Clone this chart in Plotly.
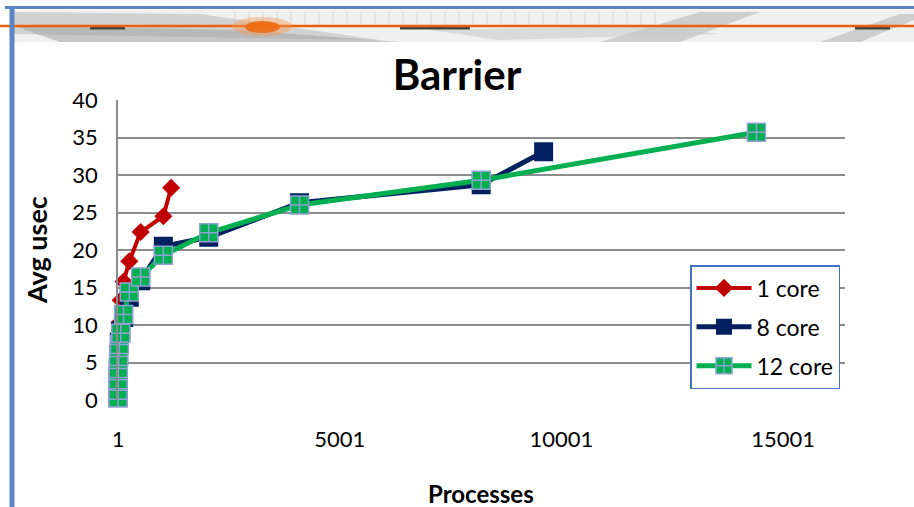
import plotly.graph_objects as go

# ---------------- data ----------------
procs_1 = [1, 2, 4, 8, 16, 32, 64, 128, 256, 512, 1024, 1200]
usec_1 = [1.0, 2.3, 3.8, 5.7, 7.7, 10.3, 13.3, 15.8, 18.5, 22.4, 24.5, 28.3]

procs_8 = [1, 2, 4, 8, 16, 32, 64, 128, 256, 512, 1024, 2048, 4096, 8192, 9600]
usec_8 = [0.3, 1.3, 2.6, 4.3, 6.0, 7.7, 9.2, 11.0, 13.7, 15.9, 20.5, 21.7, 26.3, 28.7, 33.1]

procs_12 = [1, 2, 4, 8, 16, 32, 64, 128, 256, 512, 1024, 2048, 4096, 8192, 14400]
usec_12 = [0.3, 1.3, 2.7, 4.2, 5.8, 7.4, 8.9, 11.4, 14.4, 16.4, 19.3, 22.3, 26.0, 29.3, 35.7]

series_names = ["1 core", "8 core", "12 core"]
x_ticks = [1, 5001, 10001, 15001]
x_tick_text = ["1", "5001", "10001", "15001"]
y_ticks = [0, 5, 10, 15, 20, 25, 30, 35, 40]

# ---------------- layout geometry ----------------
W, H = 914, 507
L, R, T, B = 118, 845, 100, 400
FONT = "Lato, Open Sans, sans-serif"


def px(x):
    return (x - L) / (R - L)


def py(y):
    return (B - y) / (B - T)


fig = go.Figure()

fig.add_trace(go.Scatter(
    x=procs_1, y=usec_1, name=series_names[0], mode="lines+markers",
    line=dict(color="#C00000", width=4),
    marker=dict(symbol="diamond", size=14, color="#C00000",
                line=dict(color="#C00000", width=0)),
    cliponaxis=False, legendgroup="a"))

fig.add_trace(go.Scatter(
    x=procs_8, y=usec_8, name=series_names[1], mode="lines+markers",
    line=dict(color="#002060", width=5),
    marker=dict(symbol="square", size=19, color="#002060",
                line=dict(color="#002060", width=0)),
    cliponaxis=False, legendgroup="b"))

fig.add_trace(go.Scatter(
    x=procs_12, y=usec_12, name=series_names[2], mode="lines+markers",
    line=dict(color="#00B050", width=5),
    marker=dict(symbol="square-cross", size=18, color="#00B050",
                line=dict(color="#8EA0D6", width=1.5)),
    cliponaxis=False, legendgroup="c"))

# ---------------- decorative slide banner ----------------
shapes = []
shapes.append(dict(type="rect", xref="paper", yref="paper",
                   x0=px(14), x1=px(914), y0=py(42), y1=py(10),
                   fillcolor="#F0F0F0", line=dict(width=0), layer="below"))
for gx in range(235, 660, 14):
    shapes.append(dict(type="line", xref="paper", yref="paper",
                       x0=px(gx), x1=px(gx), y0=py(25), y1=py(11),
                       line=dict(color="#D6D6D6", width=1), layer="below"))
swooshes = [
    ([(14, 12), (200, 14), (380, 40), (14, 34)], "#C4C4C4", 0.7),
    ([(14, 26), (240, 30), (400, 42), (60, 42)], "#9E9E9E", 0.5),
    ([(600, 42), (700, 12), (760, 12), (680, 42)], "#B8B8B8", 0.6),
    ([(820, 42), (900, 14), (914, 14), (914, 20), (860, 42)], "#B8B8B8", 0.6),
    ([(430, 30), (650, 26), (720, 34), (500, 40)], "#CCCCCC", 0.6),
]
for pts, col, op in swooshes:
    path = "M " + " L ".join(f"{px(a):.5f},{py(b):.5f}" for a, b in pts) + " Z"
    shapes.append(dict(type="path", xref="paper", yref="paper", path=path,
                       fillcolor=col, opacity=op, line=dict(width=0), layer="below"))
for x0, x1 in [(90, 125), (400, 470), (855, 890)]:
    shapes.append(dict(type="line", xref="paper", yref="paper",
                       x0=px(x0), x1=px(x1), y0=py(28), y1=py(28),
                       line=dict(color="#404040", width=3), layer="below"))
shapes.append(dict(type="line", xref="paper", yref="paper",
                   x0=px(0), x1=px(914), y0=py(26), y1=py(26),
                   line=dict(color="#E8600A", width=2.5), layer="below"))
shapes.append(dict(type="circle", xref="paper", yref="paper",
                   x0=px(232), x1=px(292), y0=py(36), y1=py(17),
                   fillcolor="#F39A55", opacity=0.45, line=dict(width=0), layer="below"))
shapes.append(dict(type="circle", xref="paper", yref="paper",
                   x0=px(245), x1=px(280), y0=py(33), y1=py(21),
                   fillcolor="#EE6A10", opacity=0.9, line=dict(width=0), layer="below"))
shapes.append(dict(type="line", xref="paper", yref="paper",
                   x0=px(5), x1=px(914), y0=py(7.5), y1=py(7.5),
                   line=dict(color="#5B86C4", width=3)))
shapes.append(dict(type="line", xref="paper", yref="paper",
                   x0=px(12), x1=px(12), y0=py(7), y1=py(507),
                   line=dict(color="#5B86C4", width=5)))

annotations = [
    dict(text="<b>Avg usec</b>", xref="paper", yref="paper", x=px(36), y=py(250),
         showarrow=False, textangle=-90, font=dict(family=FONT, size=27, color="#000000"),
         xanchor="center", yanchor="middle"),
    dict(text="<b>Processes</b>", xref="paper", yref="paper", x=px(481), y=py(493),
         showarrow=False, font=dict(family=FONT, size=24, color="#000000"),
         xanchor="center", yanchor="middle"),
]

fig.update_layout(
    width=W, height=H,
    margin=dict(l=L, r=W - R, t=T, b=H - B, pad=0),
    paper_bgcolor="#FFFFFF", plot_bgcolor="#FFFFFF",
    font=dict(family=FONT, color="#000000"),
    title=dict(text="<b>Barrier</b>", x=0.5, xref="container", xanchor="center",
               y=1 - 75 / H, yref="container", yanchor="middle",
               font=dict(family=FONT, size=42, color="#000000")),
    xaxis=dict(range=[1, 16397], tickvals=x_ticks, ticktext=x_tick_text,
               showgrid=False, zeroline=False, showline=False, ticks="",
               ticklabelstandoff=24, tickfont=dict(family=FONT, size=22, color="#000000")),
    yaxis=dict(range=[0, 40], tickvals=y_ticks, showgrid=True, gridcolor="#8C8C8C",
               gridwidth=1.5, zeroline=False, showline=True, linecolor="#8C8C8C",
               linewidth=1.5, ticks="", ticklabelstandoff=14,
               tickfont=dict(family=FONT, size=22, color="#000000")),
    legend=dict(x=px(690), y=py(265), xanchor="left", yanchor="top",
                bgcolor="#FFFFFF", bordercolor="#4472C4", borderwidth=1.5,
                font=dict(family=FONT, size=23, color="#000000"),
                itemwidth=55, tracegroupgap=6, traceorder="grouped"),
    showlegend=True,
    shapes=shapes,
    annotations=annotations,
)

fig.write_html("out.html")
